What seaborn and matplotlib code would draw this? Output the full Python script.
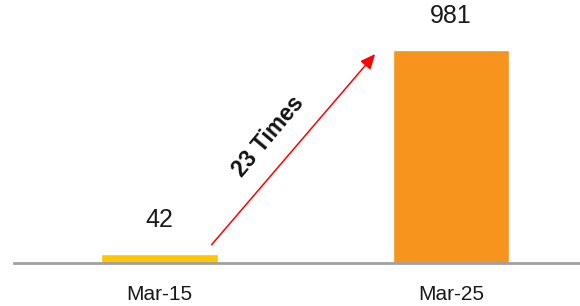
import numpy as np
import pandas as pd
import matplotlib
matplotlib.use("Agg")
import matplotlib.pyplot as plt
import seaborn as sns

periods = ["Mar-15", "Mar-25"]
values = [42, 981]
bar_colors = ["#FFC700", "#F7941D"]
growth_label = "23 Times"

sns.set_style("white")
plt.rcParams['font.family'] = ['Liberation Sans', 'DejaVu Sans']

df = pd.DataFrame({"period": periods, "value": values})

fig = plt.figure(figsize=(5.8, 3.06), dpi=100)
ax = fig.add_axes([14 / 580, 43 / 306, 566 / 580, 263 / 306])

sns.barplot(data=df, x="period", y="value", hue="period", palette=bar_colors,
            width=0.4, legend=False, ax=ax, saturation=1)

ax.set_xlim(-0.5, 1.443)
ax.set_ylim(0, 1211)

# value labels above the bars
for i, v in enumerate(values):
    ax.text(i, v + 155, str(v), ha="center", va="center", fontsize=18, color="#1a1a1a")

# growth arrow
ax.annotate("", xy=(0.746, 972), xytext=(0.172, 74),
            arrowprops=dict(arrowstyle="-|>,head_length=0.9,head_width=0.4",
                            color="#FF0000", lw=1.1))
ax.text(0.375, 585, growth_label, rotation=50, ha="center", va="center",
        fontsize=16.5, fontweight="bold", color="#111111")

sns.despine(ax=ax, left=True)
ax.spines["bottom"].set_color("#A0A0A0")
ax.spines["bottom"].set_linewidth(2)
ax.set_yticks([])
ax.set_xlabel("")
ax.set_ylabel("")
ax.tick_params(axis="x", length=0, pad=16, labelsize=15, labelcolor="#1a1a1a")

fig.savefig("out.png", dpi=100)
